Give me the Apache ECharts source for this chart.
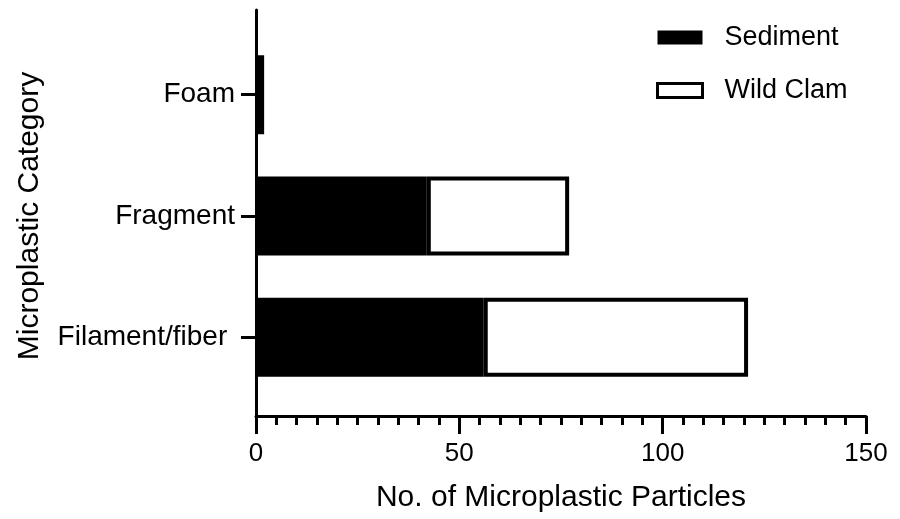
<!DOCTYPE html>
<html>
<head>
<meta charset="utf-8">
<script src="https://cdn.jsdelivr.net/npm/echarts@6/dist/echarts.min.js"></script>
<style>html,body{margin:0;padding:0;background:#fff}#c{width:900px;height:519px}</style>
</head>
<body>
<div id="c"></div>
<script>
const categories = ['Filament/fiber ', 'Fragment', 'Foam'];
const sediment = [56, 42, 2];
const wildClam = [65, 35, 0];
const xTicks = [0, 50, 100, 150];

const FONT = 'Liberation Sans, Arial, sans-serif';
const chart = echarts.init(document.getElementById('c'), null, {renderer: 'canvas'});
chart.setOption({
  animation: false,
  backgroundColor: '#fff',
  textStyle: {fontFamily: FONT, color: '#000'},
  grid: [
    {left: 256, right: 34, top: 34, bottom: 121},
    {left: 256, right: 34, top: 10, bottom: 103}
  ],
  legend: {
    orient: 'vertical',
    left: 651, top: 19,
    itemWidth: 45, itemHeight: 14, itemGap: 26,
    icon: 'rect',
    textStyle: {fontFamily: FONT, fontSize: 27, color: '#000', padding: [0, 0, 0, 17]},
    data: [
      {name: 'Sediment', itemStyle: {color: '#000', borderColor: '#000', borderWidth: 0}},
      {name: 'Wild Clam', itemStyle: {color: '#fff', borderColor: '#000', borderWidth: 3}}
    ]
  },
  xAxis: [
    {
      gridIndex: 0, type: 'value',
      min: xTicks[0], max: xTicks[xTicks.length - 1], interval: xTicks[1] - xTicks[0],
      offset: 18,
      name: 'No. of Microplastic Particles', nameLocation: 'middle', nameGap: 67,
      nameTextStyle: {fontFamily: FONT, fontSize: 30, color: '#000'},
      axisLine: {show: true, lineStyle: {color: '#000', width: 3}},
      axisTick: {show: true, length: 18, lineStyle: {color: '#000', width: 3}},
      minorTick: {show: true, splitNumber: 10, length: 9, lineStyle: {color: '#000', width: 3}},
      axisLabel: {fontFamily: FONT, fontSize: 26, color: '#000', margin: 25},
      splitLine: {show: false}
    },
    {gridIndex: 1, type: 'value', min: 0, max: 150, show: false}
  ],
  yAxis: [
    {
      gridIndex: 0, type: 'category', data: categories,
      name: 'Microplastic Category', nameLocation: 'middle', nameGap: 211,
      nameTextStyle: {fontFamily: FONT, fontSize: 30, color: '#000'},
      axisLine: {show: false},
      axisTick: {show: true, alignWithLabel: true, length: 15, lineStyle: {color: '#000', width: 3}},
      axisLabel: {fontFamily: FONT, fontSize: 28, color: '#000', margin: 21}
    },
    {
      gridIndex: 1, type: 'value', min: 0, max: 1,
      axisLine: {show: true, lineStyle: {color: '#000', width: 3}},
      axisTick: {show: false}, axisLabel: {show: false}, splitLine: {show: false}
    }
  ],
  series: [
    {
      name: 'Sediment', type: 'bar', stack: 'total', xAxisIndex: 0, yAxisIndex: 0,
      barWidth: 79,
      itemStyle: {color: '#000', borderColor: '#000', borderWidth: 4},
      data: sediment.map(v => v === 0 ? '-' : v)
    },
    {
      name: 'Wild Clam', type: 'bar', stack: 'total', xAxisIndex: 0, yAxisIndex: 0,
      barWidth: 79,
      itemStyle: {color: '#fff', borderColor: '#000', borderWidth: 4},
      data: wildClam.map(v => v === 0 ? '-' : v)
    }
  ]
});
</script>
</body>
</html>
